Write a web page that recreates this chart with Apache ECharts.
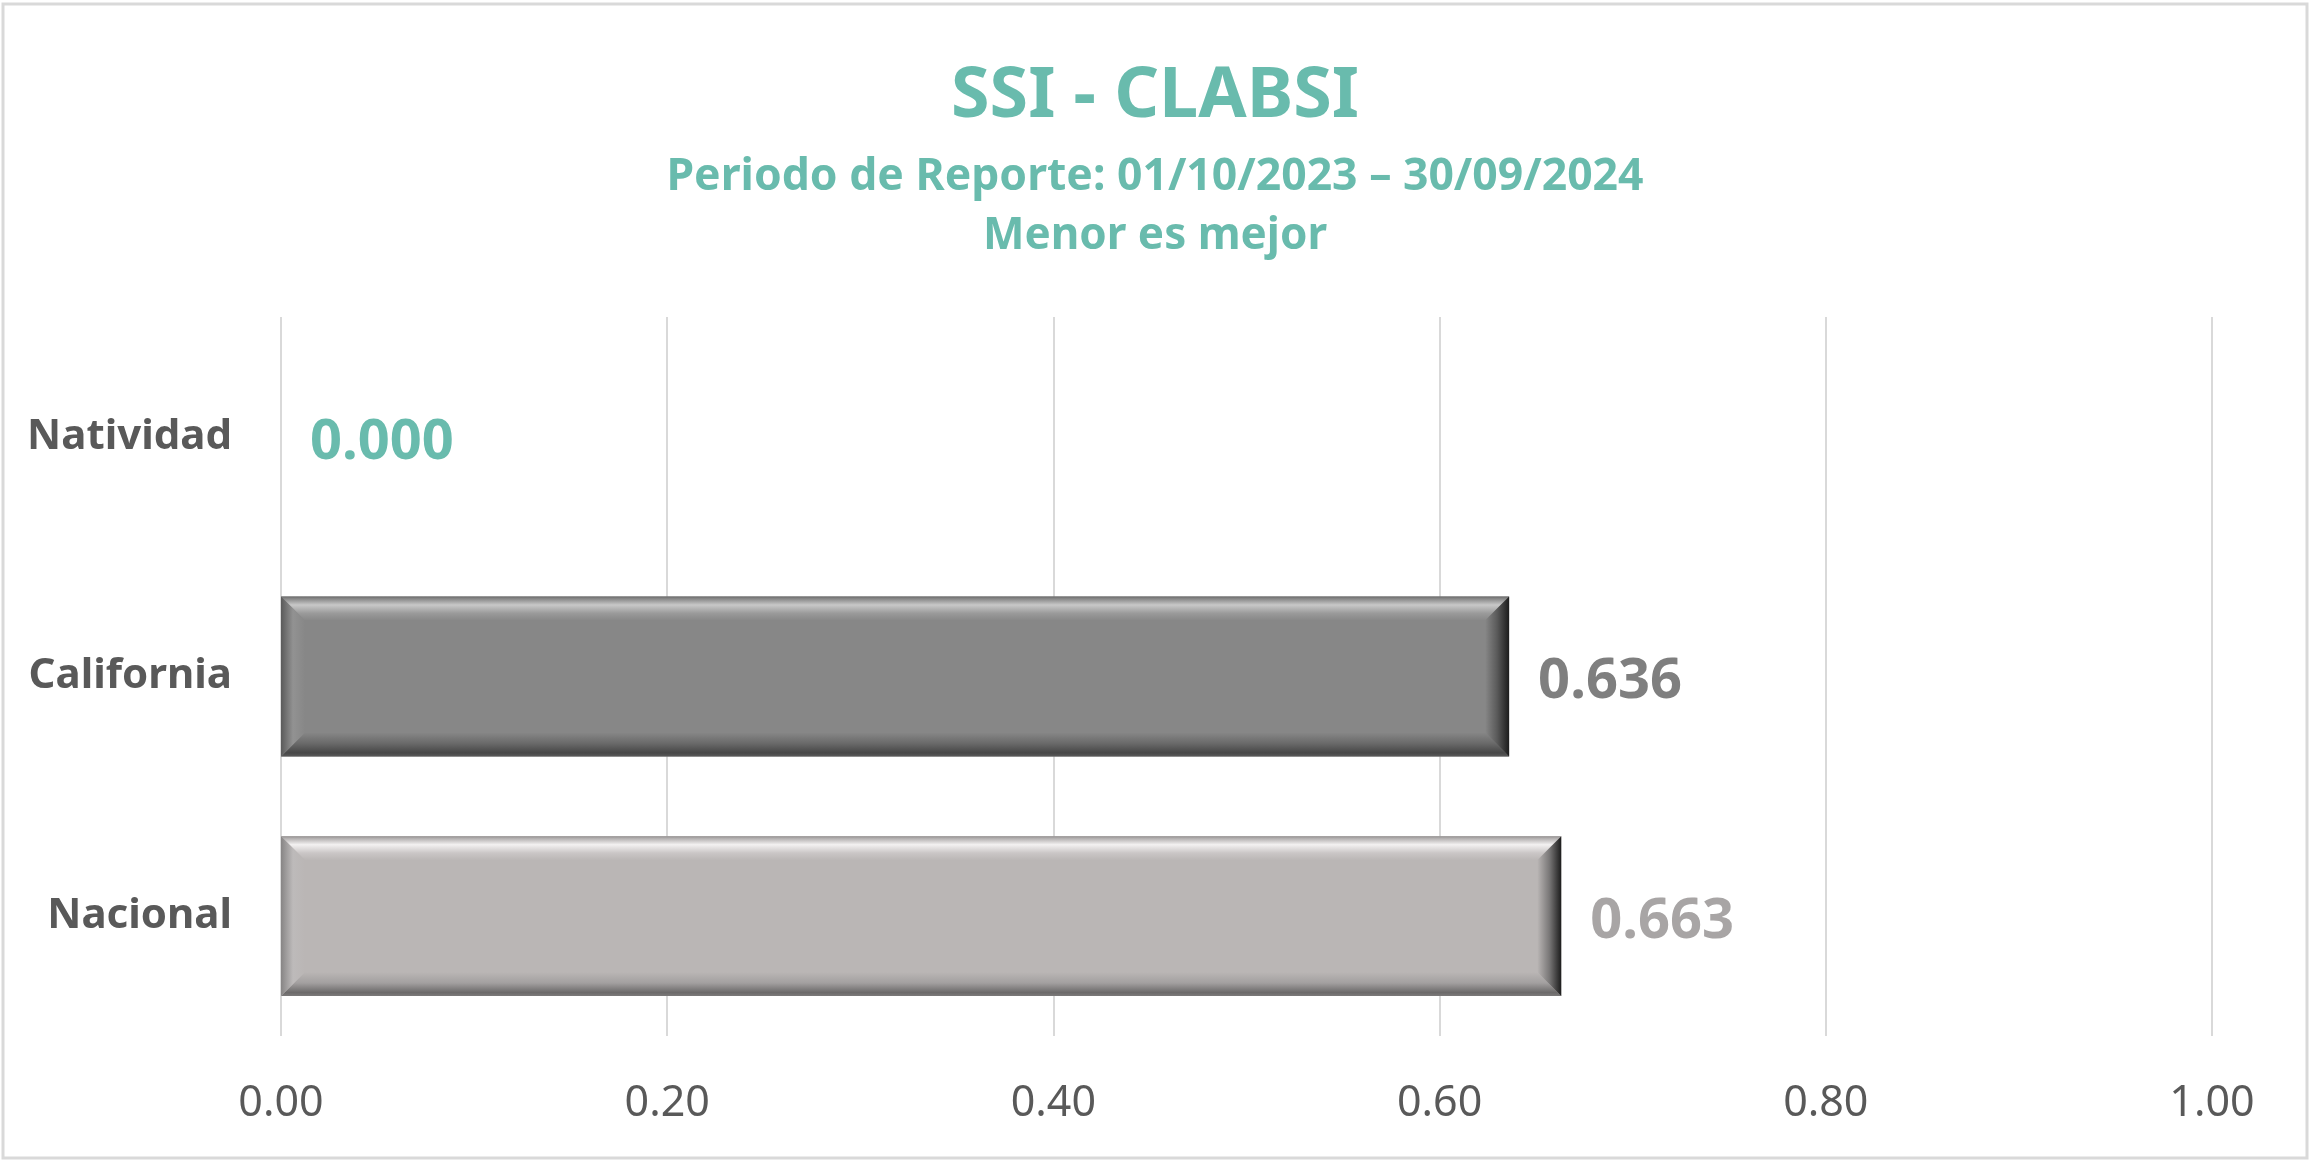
<!DOCTYPE html>
<html>
<head>
<meta charset="utf-8">
<script src="https://cdn.jsdelivr.net/npm/echarts@6/dist/echarts.min.js"></script>
<style>
html,body{margin:0;padding:0;background:#fff;}
#chart{width:2310px;height:1168px;}
</style>
</head>
<body>
<div id="chart"></div>
<script>
// ---- data ----
const categories = ['Natividad', 'California', 'Nacional'];
const values = [0.000, 0.636, 0.663];
const xTicks = [0, 0.2, 0.4, 0.6, 0.8, 1.0];
const titleText = 'SSI - CLABSI';
const subtitleText = 'Periodo de Reporte: 01/10/2023 \u2013 30/09/2024';
const noteText = 'Menor es mejor';

// ---- styles ----
const TEAL = '#69bbad';
const FONT = '"Noto Sans", "Open Sans", sans-serif';
const labelColors = { 'Natividad': TEAL, 'California': '#7f7f7f', 'Nacional': '#a8a5a5' };
const bevel = {
  'California': {
    base: '#878787',
    top: [[0, '#6c6c6c'], [0.1, '#8a8a8a'], [0.35, '#c8c8c8'], [0.7, '#9a9a9a'], [1, '#878787']],
    bottom: [[0, '#878787'], [0.45, '#6a6a6a'], [0.85, '#474747'], [1, '#5a5a5a']],
    left: [[0, '#5a5a5a'], [0.5, '#929292'], [1, '#878787']],
    right: [[0, '#878787'], [0.5, '#5a5a5a'], [1, '#1c1c1c']]
  },
  'Nacional': {
    base: '#bab6b5',
    top: [[0, '#949191'], [0.1, '#b5b2b2'], [0.35, '#f3f1f1'], [0.7, '#cac6c6'], [1, '#bab6b5']],
    bottom: [[0, '#bab6b5'], [0.45, '#a3a0a0'], [0.85, '#6c6a6a'], [1, '#7c7a7a']],
    left: [[0, '#878585'], [0.5, '#bdbaba'], [1, '#bab6b5']],
    right: [[0, '#bab6b5'], [0.5, '#7a7878'], [1, '#1c1c1c']]
  }
};

function grad(x0, y0, x1, y1, stops) {
  return new echarts.graphic.LinearGradient(x0, y0, x1, y1,
    stops.map(s => ({ offset: s[0], color: s[1] })));
}

const chart = echarts.init(document.getElementById('chart'), null, { renderer: 'canvas' });

function renderBevelBar(params, api) {
  const v = api.value(0);
  const ci = api.value(1);
  if (!v) return null;
  const cat = categories[ci];
  const st = bevel[cat];
  const p0 = api.coord([0, ci]);
  const p1 = api.coord([v, ci]);
  const bh = api.size([0, 1])[1] * 0.667;
  const x0 = p0[0], x1 = p1[0];
  const y0 = p0[1] - bh / 2, y1 = p0[1] + bh / 2;
  const b = Math.min(24, (x1 - x0) / 2, bh / 2);
  return {
    type: 'group',
    children: [
      { type: 'rect', shape: { x: x0, y: y0, width: x1 - x0, height: y1 - y0 }, style: { fill: st.base } },
      { type: 'polygon', shape: { points: [[x0, y0], [x1, y0], [x1 - b, y0 + b], [x0 + b, y0 + b]] }, style: { fill: grad(0, 0, 0, 1, st.top) } },
      { type: 'polygon', shape: { points: [[x0, y1], [x1, y1], [x1 - b, y1 - b], [x0 + b, y1 - b]] }, style: { fill: grad(0, 0, 0, 1, st.bottom) } },
      { type: 'polygon', shape: { points: [[x0, y0], [x0 + b, y0 + b], [x0 + b, y1 - b], [x0, y1]] }, style: { fill: grad(0, 0, 1, 0, st.left) } },
      { type: 'polygon', shape: { points: [[x1, y0], [x1 - b, y0 + b], [x1 - b, y1 - b], [x1, y1]] }, style: { fill: grad(0, 0, 1, 0, st.right) } }
    ]
  };
}

const option = {
  backgroundColor: '#ffffff',
  animation: false,
  title: [
    { text: titleText, left: 'center', top: 56, textStyle: { fontFamily: FONT, fontSize: 70, fontWeight: 'bold', color: TEAL, lineHeight: 72 } },
    { text: subtitleText, left: 'center', top: 149, textStyle: { fontFamily: FONT, fontSize: 44.5, fontWeight: 'bold', color: TEAL, lineHeight: 46 } },
    { text: noteText, left: 'center', top: 208, textStyle: { fontFamily: FONT, fontSize: 44, fontWeight: 'bold', color: TEAL, lineHeight: 46 } }
  ],
  graphic: [
    { type: 'rect', shape: { x: 3, y: 4, width: 2304, height: 1154 }, style: { fill: 'none', stroke: '#d9d9d9', lineWidth: 3 }, silent: true }
  ],
  grid: { left: 281, right: 98, top: 317, bottom: 132, containLabel: false },
  xAxis: {
    type: 'value', min: 0, max: 1, interval: 0.2,
    axisLine: { show: false }, axisTick: { show: false },
    splitLine: { show: true, lineStyle: { color: '#d9d9d9', width: 2 } },
    axisLabel: { margin: 46, fontFamily: FONT, fontSize: 43, color: '#595959',
      formatter: v => xTicks.some(t => Math.abs(t - v) < 1e-9) ? v.toFixed(2) : '' }
  },
  yAxis: {
    type: 'category', data: categories, inverse: true,
    axisLine: { show: false }, axisTick: { show: false },
    axisLabel: { margin: 49, fontFamily: FONT, fontSize: 42, fontWeight: 'bold', color: '#595959', padding: [6, 0, 0, 0] }
  },
  series: [
    {
      type: 'custom',
      renderItem: renderBevelBar,
      encode: { x: 0, y: 1 },
      data: values.map((v, i) => [v, i]),
      z: 2
    },
    {
      type: 'bar',
      barWidth: '66.7%',
      itemStyle: { color: 'rgba(0,0,0,0)' },
      z: 3,
      label: {
        show: true, position: 'right', distance: 29, offset: [0, 6],
        fontFamily: FONT, fontSize: 56, fontWeight: 'bold',
        formatter: p => p.value.toFixed(3)
      },
      data: values.map((v, i) => ({ value: v, label: { color: labelColors[categories[i]] } }))
    }
  ]
};
chart.setOption(option);
</script>
</body>
</html>
